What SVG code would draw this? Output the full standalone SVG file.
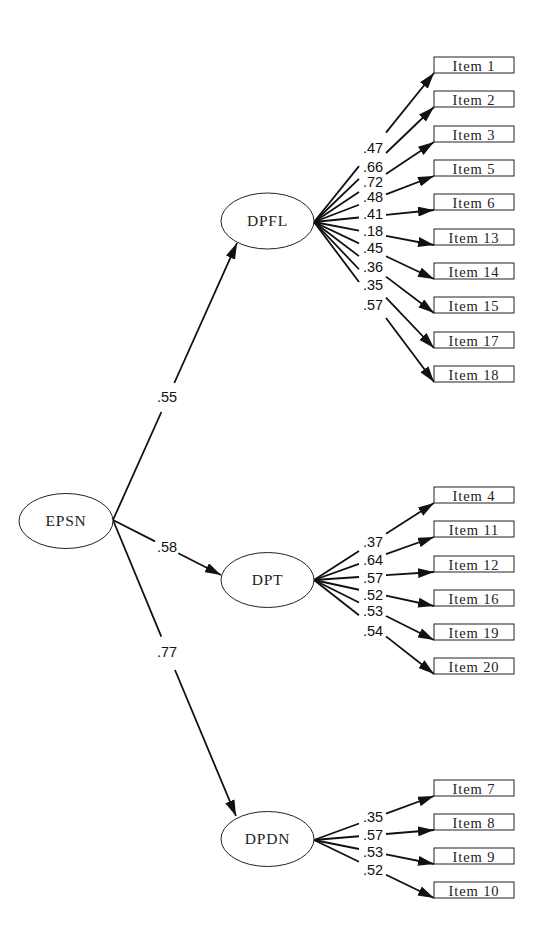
<svg xmlns="http://www.w3.org/2000/svg" width="550" height="938" viewBox="0 0 550 938">
<style>
.lat ellipse{fill:#fff;stroke:#222;stroke-width:1}
.lat text{font-family:"Liberation Serif","Times New Roman",serif;font-size:15.5px;letter-spacing:0.8px;text-anchor:middle;fill:#222}
.item rect{fill:#fff;stroke:#222;stroke-width:1}
.item text{font-family:"Liberation Serif","Times New Roman",serif;font-size:14.5px;letter-spacing:0.9px;text-anchor:middle;fill:#222}
.edge path{fill:none;stroke:#111;stroke-width:1.8}
.lbl{font-family:"Liberation Sans",Arial,sans-serif;font-size:14.5px;text-anchor:middle;fill:#111}
</style>
<defs>
<marker id="ah" viewBox="0 0 16 10" refX="16" refY="5" markerWidth="16" markerHeight="10" markerUnits="userSpaceOnUse" orient="auto">
<path d="M0,0 L16,5 L0,10 Z" fill="#111"/>
</marker>
</defs>
<rect width="550" height="938" fill="#fff"/>

<g id="connectors" class="edge">
<path d="M113,520 L161.4,412 M174.3,383 L237,243" marker-end="url(#ah)"/>
<path d="M113,520 L155,541.4 M178.3,553.3 L221,575" marker-end="url(#ah)"/>
<path d="M113,520 L161.3,636.7 M175,670 L236,816" marker-end="url(#ah)"/>

<path d="M314,222 L359,166.1 M386,132.6 L434,73" marker-end="url(#ah)"/>
<path d="M314,222 L359,178.9 M386,153 L434,107" marker-end="url(#ah)"/>
<path d="M314,222 L359,192 M386,174 L434,142" marker-end="url(#ah)"/>
<path d="M314,222 L359,204.75 M386,194.4 L434,176" marker-end="url(#ah)"/>
<path d="M314,222 L359,217.5 M386,214.8 L434,210" marker-end="url(#ah)"/>
<path d="M314,222 L359,230.6 M386,235.8 L434,245" marker-end="url(#ah)"/>
<path d="M314,222 L359,243.4 M386,256.2 L434,279" marker-end="url(#ah)"/>
<path d="M314,222 L359,256.1 M386,276.6 L434,313" marker-end="url(#ah)"/>
<path d="M314,222 L359,269.25 M386,297.6 L434,348" marker-end="url(#ah)"/>
<path d="M314,222 L359,282 M386,318 L434,382" marker-end="url(#ah)"/>

<path d="M314,580 L359,551.1 M386,533.8 L434,503" marker-end="url(#ah)"/>
<path d="M314,580 L359,563.9 M386,554.2 L434,537" marker-end="url(#ah)"/>
<path d="M314,580 L359,577 M386,575.2 L434,572" marker-end="url(#ah)"/>
<path d="M314,580 L359,589.75 M386,595.6 L434,606" marker-end="url(#ah)"/>
<path d="M314,580 L359,602.5 M386,616 L434,640" marker-end="url(#ah)"/>
<path d="M314,580 L359,615.25 M386,636.4 L434,674" marker-end="url(#ah)"/>

<path d="M314,840 L359,823.5 M386,813.6 L434,796" marker-end="url(#ah)"/>
<path d="M314,840 L359,836.25 M386,834 L434,830" marker-end="url(#ah)"/>
<path d="M314,840 L359,849 M386,854.4 L434,864" marker-end="url(#ah)"/>
<path d="M314,840 L359,861.75 M386,874.8 L434,898" marker-end="url(#ah)"/>

<text class="lbl" x="167" y="402">.55</text>
<text class="lbl" x="167" y="552">.58</text>
<text class="lbl" x="167" y="657">.77</text>

<text class="lbl" x="373" y="153">.47</text>
<text class="lbl" x="373" y="172">.66</text>
<text class="lbl" x="373" y="187">.72</text>
<text class="lbl" x="373" y="202">.48</text>
<text class="lbl" x="373" y="219">.41</text>
<text class="lbl" x="373" y="236">.18</text>
<text class="lbl" x="373" y="253">.45</text>
<text class="lbl" x="373" y="272">.36</text>
<text class="lbl" x="373" y="290">.35</text>
<text class="lbl" x="373" y="310">.57</text>

<text class="lbl" x="373" y="546.5">.37</text>
<text class="lbl" x="373" y="565">.64</text>
<text class="lbl" x="373" y="582.5">.57</text>
<text class="lbl" x="373" y="600">.52</text>
<text class="lbl" x="373" y="616">.53</text>
<text class="lbl" x="373" y="636">.54</text>

<text class="lbl" x="373" y="821.7">.35</text>
<text class="lbl" x="373" y="840">.57</text>
<text class="lbl" x="373" y="856.7">.53</text>
<text class="lbl" x="373" y="875">.52</text>
</g>

<g id="EPSN" class="lat"><ellipse cx="66" cy="521" rx="47" ry="27.5"/><text x="66" y="526">EPSN</text></g>
<g id="DPFL" class="lat"><ellipse cx="267.5" cy="221" rx="46.5" ry="28"/><text x="267.5" y="226">DPFL</text></g>
<g id="DPT" class="lat"><ellipse cx="267.5" cy="580" rx="46.5" ry="27.5"/><text x="267.5" y="585">DPT</text></g>
<g id="DPDN" class="lat"><ellipse cx="267.5" cy="839" rx="46.5" ry="27.5"/><text x="267.5" y="844">DPDN</text></g>

<g id="item1" class="item"><rect x="434" y="57" width="80" height="16"/><text x="474" y="70.5">Item 1</text></g>
<g id="item2" class="item"><rect x="434" y="91" width="80" height="16"/><text x="474" y="104.5">Item 2</text></g>
<g id="item3" class="item"><rect x="434" y="126" width="80" height="16"/><text x="474" y="139.5">Item 3</text></g>
<g id="item5" class="item"><rect x="434" y="160" width="80" height="16"/><text x="474" y="173.5">Item 5</text></g>
<g id="item6" class="item"><rect x="434" y="194" width="80" height="16"/><text x="474" y="207.5">Item 6</text></g>
<g id="item13" class="item"><rect x="434" y="229" width="80" height="16"/><text x="474" y="242.5">Item 13</text></g>
<g id="item14" class="item"><rect x="434" y="263" width="80" height="16"/><text x="474" y="276.5">Item 14</text></g>
<g id="item15" class="item"><rect x="434" y="297" width="80" height="16"/><text x="474" y="310.5">Item 15</text></g>
<g id="item17" class="item"><rect x="434" y="332" width="80" height="16"/><text x="474" y="345.5">Item 17</text></g>
<g id="item18" class="item"><rect x="434" y="366" width="80" height="16"/><text x="474" y="379.5">Item 18</text></g>

<g id="item4" class="item"><rect x="434" y="487" width="80" height="16"/><text x="474" y="500.5">Item 4</text></g>
<g id="item11" class="item"><rect x="434" y="521" width="80" height="16"/><text x="474" y="534.5">Item 11</text></g>
<g id="item12" class="item"><rect x="434" y="556" width="80" height="16"/><text x="474" y="569.5">Item 12</text></g>
<g id="item16" class="item"><rect x="434" y="590" width="80" height="16"/><text x="474" y="603.5">Item 16</text></g>
<g id="item19" class="item"><rect x="434" y="624" width="80" height="16"/><text x="474" y="637.5">Item 19</text></g>
<g id="item20" class="item"><rect x="434" y="658" width="80" height="16"/><text x="474" y="671.5">Item 20</text></g>

<g id="item7" class="item"><rect x="434" y="780" width="80" height="16"/><text x="474" y="793.5">Item 7</text></g>
<g id="item8" class="item"><rect x="434" y="814" width="80" height="16"/><text x="474" y="827.5">Item 8</text></g>
<g id="item9" class="item"><rect x="434" y="848" width="80" height="16"/><text x="474" y="861.5">Item 9</text></g>
<g id="item10" class="item"><rect x="434" y="882" width="80" height="16"/><text x="474" y="895.5">Item 10</text></g>
</svg>
